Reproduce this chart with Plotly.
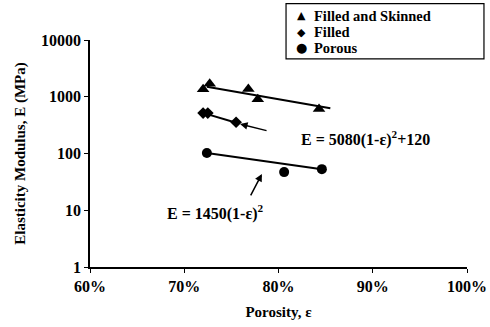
import plotly.graph_objects as go

# Data (porosity in %, modulus in MPa)
skinned_porosity = [72.0, 72.7, 76.8, 77.8, 84.3]
skinned_E = [1350, 1700, 1370, 900, 610]

filled_porosity = [72.0, 72.5, 75.5]
filled_E = [515, 515, 355]

porous_porosity = [72.4, 80.6, 84.6]
porous_E = [102, 47, 53]

# Trend lines (end points)
skinned_fit_porosity = [72.4, 85.5]
skinned_fit_E = [1500, 630]
filled_fit_porosity = [71.8, 75.6]
filled_fit_E = [530, 345]
porous_fit_porosity = [72.4, 84.6]
porous_fit_E = [102, 53]

x_ticks = [60, 70, 80, 90, 100]
x_tick_labels = ["60%", "70%", "80%", "90%", "100%"]
y_ticks = [1, 10, 100, 1000, 10000]
y_tick_labels = ["1", "10", "100", "1000", "10000"]

legend_names = ["Filled and Skinned", "Filled", "Porous"]
legend_symbols = ["▲", "◆", "●"]

FONT = "Liberation Serif, Times New Roman, serif"

fig = go.Figure()

for fx, fy in [(skinned_fit_porosity, skinned_fit_E),
               (filled_fit_porosity, filled_fit_E),
               (porous_fit_porosity, porous_fit_E)]:
    fig.add_trace(go.Scatter(x=fx, y=fy, mode="lines", showlegend=False,
                             line=dict(color="black", width=2), hoverinfo="skip"))

fig.add_trace(go.Scatter(x=skinned_porosity, y=skinned_E, mode="markers",
                         name=legend_names[0],
                         marker=dict(symbol="triangle-up", size=11, color="black")))
fig.add_trace(go.Scatter(x=filled_porosity, y=filled_E, mode="markers",
                         name=legend_names[1],
                         marker=dict(symbol="diamond", size=9, color="black")))
fig.add_trace(go.Scatter(x=porous_porosity, y=porous_E, mode="markers",
                         name=legend_names[2],
                         marker=dict(symbol="circle", size=10, color="black")))

annotations = [
    dict(xref="paper", yref="paper", x=0.732, y=0.568, xanchor="center", yanchor="middle",
         text="E = 5080(1-ε)<sup>2</sup>+120", showarrow=False,
         font=dict(family=FONT, size=16, weight="bold")),
    dict(xref="paper", yref="paper", x=0.334, y=0.238, xanchor="center", yanchor="middle",
         text="E = 1450(1-ε)<sup>2</sup>", showarrow=False,
         font=dict(family=FONT, size=16, weight="bold")),
    dict(xref="paper", yref="paper", x=0.398, y=0.630, text="",
         showarrow=True, ax=28, ay=7, arrowhead=2, arrowsize=1,
         arrowwidth=1.5, arrowcolor="black"),
    dict(xref="paper", yref="paper", x=0.456, y=0.410, text="",
         showarrow=True, ax=-12, ay=23, arrowhead=2, arrowsize=1,
         arrowwidth=1.5, arrowcolor="black"),
]

# Hand-built legend box (tight rows like the reference)
legend_rows_y = [1.106, 1.035, 0.965]
legend_symbol_sizes = [11, 11, 13]
for name, sym, ry, ss in zip(legend_names, legend_symbols, legend_rows_y, legend_symbol_sizes):
    annotations.append(dict(xref="paper", yref="paper", x=0.562, y=ry,
                            text=sym, showarrow=False, xanchor="center", yanchor="middle",
                            font=dict(family="DejaVu Sans", size=ss, color="black")))
    annotations.append(dict(xref="paper", yref="paper", x=0.590, y=ry,
                            text=name, showarrow=False, xanchor="left", yanchor="middle",
                            font=dict(family=FONT, size=14.5, weight="bold", color="black")))

fig.update_layout(
    width=490, height=327,
    margin=dict(l=90, r=23, t=40, b=60, autoexpand=False),
    paper_bgcolor="white", plot_bgcolor="white",
    font=dict(family=FONT, size=16, color="black", weight="bold"),
    showlegend=False,
    xaxis=dict(range=[60, 100], tickvals=x_ticks, ticktext=x_tick_labels,
               showline=True, linecolor="black", linewidth=1.5,
               ticks="outside", ticklen=4, tickcolor="black", showgrid=False,
               zeroline=False,
               title=dict(text="Porosity, ε", standoff=13,
                          font=dict(family=FONT, size=15, weight="bold"))),
    yaxis=dict(type="log", range=[0, 4], tickvals=y_ticks, ticktext=y_tick_labels,
               showline=True, linecolor="black", linewidth=1.5,
               ticks="outside", ticklen=4, tickcolor="black", showgrid=False,
               zeroline=False,
               title=dict(text="Elasticity Modulus, E (MPa)", standoff=12,
                          font=dict(family=FONT, size=15, weight="bold"))),
    shapes=[dict(type="rect", xref="paper", yref="paper",
                 x0=0.520, x1=1.045, y0=0.917, y1=1.160,
                 line=dict(color="black", width=1.2), fillcolor="white", layer="above")],
    annotations=annotations,
)

fig.write_html(
    "out.html",
    config={"displayModeBar": False},
    post_script="document.body.style.margin='0';document.body.style.overflow='hidden';",
)
